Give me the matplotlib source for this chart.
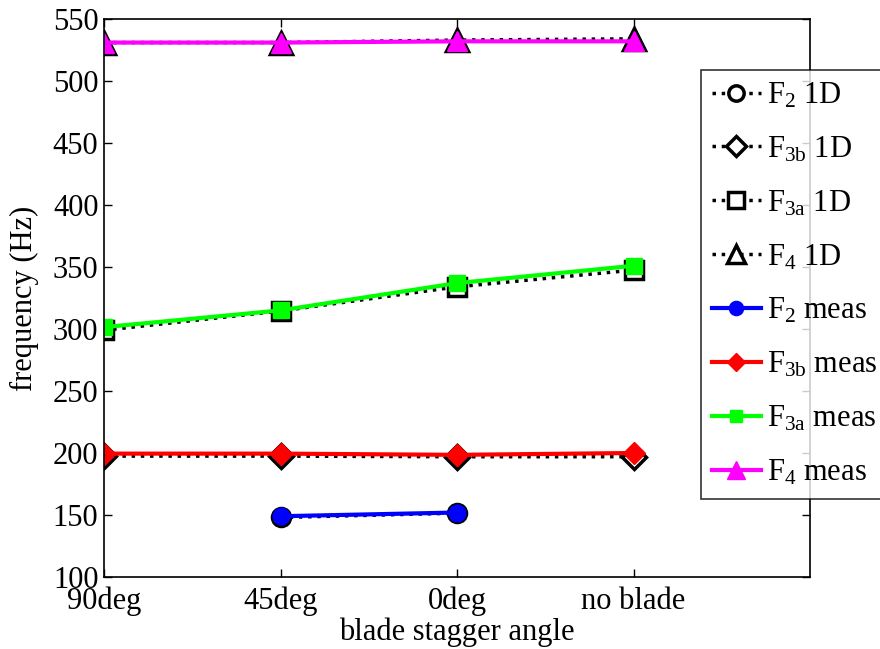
import numpy as np
from matplotlib import pyplot as plt

plt.rcParams['font.family'] = ['Liberation Serif', 'DejaVu Serif']
plt.rcParams['mathtext.fontset'] = 'custom'
plt.rcParams['mathtext.rm'] = 'Liberation Serif'
plt.rcParams['mathtext.it'] = 'Liberation Serif:italic'

# data
angles = ['90deg', '45deg', '0deg', 'no blade']
pos = np.array([1, 2, 3, 4])
f2_1d = [np.nan, 148, 151.5, np.nan]
f3b_1d = [197.5, 197.5, 197, 197]
f3a_1d = [299, 314.5, 334, 347.5]
f4_1d = [531, 531, 533, 534]
f2_meas = [np.nan, 149, 152, np.nan]
f3b_meas = [199.5, 199.5, 198.5, 200]
f3a_meas = [301.5, 315, 337, 351]
f4_meas = [531, 531, 532, 532]

labels_1d = [r'F$_\mathrm{2}$ 1D', r'F$_\mathrm{3b}$ 1D', r'F$_\mathrm{3a}$ 1D', r'F$_\mathrm{4}$ 1D']
labels_meas = [r'F$_\mathrm{2}$ meas', r'F$_\mathrm{3b}$ meas', r'F$_\mathrm{3a}$ meas', r'F$_\mathrm{4}$ meas']
markers = ['o', 'D', 's', '^']
meas_colors = ['#0000ff', '#ff0000', '#00ff00', '#ff00ff']

fig = plt.figure(figsize=(8.8, 6.49), dpi=100)
ax = fig.add_axes([104 / 880, 72 / 649, 706 / 880, 558 / 649])

handles = []
msizes = [13, 12, 13, 16]
for vals, lab, mk, ms in zip([f2_1d, f3b_1d, f3a_1d, f4_1d], labels_1d, markers, msizes):
    h, = ax.plot(pos, vals, ls=':', color='k', lw=2.5, marker=mk, ms=ms,
                 mfc='white', mec='k', mew=2.5, label=lab)
    handles.append(h)
msizes_meas = [12, 11, 11, 15]
for vals, lab, mk, c, ms in zip([f2_meas, f3b_meas, f3a_meas, f4_meas], labels_meas,
                                markers, meas_colors, msizes_meas):
    h, = ax.plot(pos, vals, ls='-', color=c, lw=3, marker=mk, ms=ms,
                 mfc=c, mec=c, mew=1, label=lab)
    handles.append(h)

ax.set_xlim(1, 5)
ax.set_ylim(100, 550)
ax.set_xticks(pos)
ax.set_xticklabels(angles)
ax.set_yticks(np.arange(100, 551, 50))
ax.tick_params(direction='in', length=6, width=1, top=True, right=True,
               labelsize=22, pad=4)
ax.tick_params(axis='x', pad=7)
for sp in ax.spines.values():
    sp.set_linewidth(1.2)
ax.set_xlabel('blade stagger angle', fontsize=22, labelpad=1)
ax.set_ylabel('frequency (Hz)', fontsize=22, labelpad=10)

leg = fig.legend(handles=handles, loc='upper left',
                 bbox_to_anchor=(701 / 880, 1 - 70 / 649),
                 bbox_transform=fig.transFigure, fontsize=22,
                 frameon=True, fancybox=False, borderaxespad=0,
                 handlelength=1.6, handletextpad=0.2, labelspacing=0.8,
                 borderpad=0.35, markerscale=0.85)
leg.get_frame().set_edgecolor('k')
leg.get_frame().set_linewidth(1.2)

fig.savefig('out.png', dpi=100)
